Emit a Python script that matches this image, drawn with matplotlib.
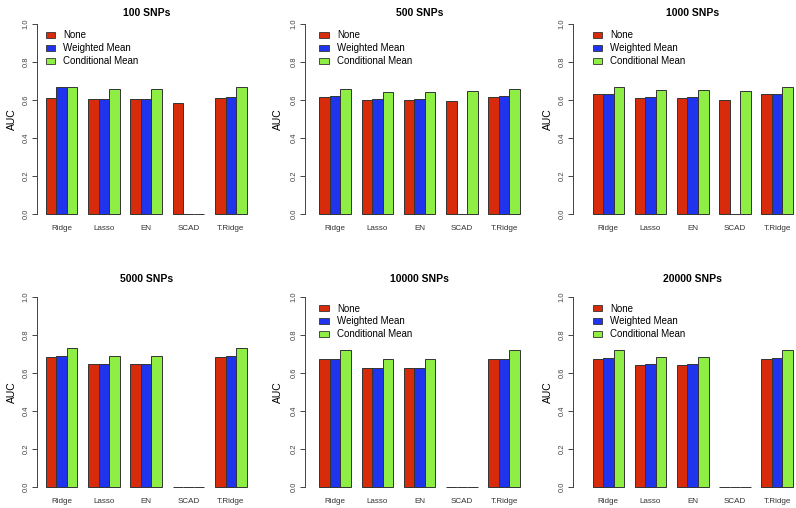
import numpy as np
import matplotlib
matplotlib.use("Agg")
import matplotlib.pyplot as plt
from matplotlib.patches import Patch

plt.rcParams['font.family'] = ['Liberation Sans', 'DejaVu Sans']

methods = ['Ridge', 'Lasso', 'EN', 'SCAD', 'T.Ridge']
series_names = ['None', 'Weighted Mean', 'Conditional Mean']
titles = ['100 SNPs', '500 SNPs', '1000 SNPs', '5000 SNPs', '10000 SNPs', '20000 SNPs']

none_100 = [0.610, 0.603, 0.603, 0.585, 0.612]
wm_100 = [0.668, 0.605, 0.605, 0.0, 0.615]
cm_100 = [0.668, 0.658, 0.658, 0.0, 0.668]

none_500 = [0.617, 0.602, 0.602, 0.596, 0.617]
wm_500 = [0.621, 0.603, 0.603, 0.0, 0.621]
cm_500 = [0.660, 0.643, 0.643, 0.645, 0.660]

none_1000 = [0.631, 0.612, 0.612, 0.601, 0.629]
wm_1000 = [0.631, 0.616, 0.616, 0.0, 0.631]
cm_1000 = [0.671, 0.653, 0.653, 0.646, 0.671]

none_5000 = [0.686, 0.646, 0.646, 0.0, 0.686]
wm_5000 = [0.690, 0.648, 0.648, 0.0, 0.690]
cm_5000 = [0.733, 0.690, 0.690, 0.0, 0.733]

none_10000 = [0.672, 0.625, 0.625, 0.0, 0.672]
wm_10000 = [0.675, 0.628, 0.628, 0.0, 0.675]
cm_10000 = [0.719, 0.672, 0.672, 0.0, 0.719]

none_20000 = [0.672, 0.640, 0.640, 0.0, 0.672]
wm_20000 = [0.681, 0.648, 0.648, 0.0, 0.681]
cm_20000 = [0.723, 0.686, 0.686, 0.0, 0.723]

panel_data = [
    (none_100, wm_100, cm_100),
    (none_500, wm_500, cm_500),
    (none_1000, wm_1000, cm_1000),
    (none_5000, wm_5000, cm_5000),
    (none_10000, wm_10000, cm_10000),
    (none_20000, wm_20000, cm_20000),
]
show_legend = [True, True, True, False, True, True]

colors = ['#D82B0C', '#2034EE', '#8EEE44']
edge = '#333333'

W, H = 796, 508
fig = plt.figure(figsize=(W / 100, H / 100), dpi=100)

# pixel layout: (spine x, first bar left, last bar right, AUC x) per column, (y of 0, y of 1) per row
cols = [(37, 45.7, 246.7, 12), (305, 319.3, 520, 278), (573, 592.5, 793, 548)]
rows = [(214, 24), (487, 297)]
title_y = [13, 279]

for i in range(6):
    r, c = divmod(i, 3)
    sx, bx0, bx1, lx = cols[c]
    y0, y1 = rows[r]
    unit = (bx1 - bx0) / 19.0
    xl = 1 - (bx0 - sx) / unit
    xr = 20.76
    right_px = bx1 + (xr - 20) * unit
    ext = 0.04 * (y0 - y1)
    top_px, bot_px = y1 - ext, y0 + ext
    ax = fig.add_axes([sx / W, 1 - bot_px / H, (right_px - sx) / W, (bot_px - top_px) / H])

    for j, vals in enumerate(panel_data[i]):
        xs = np.arange(len(methods)) * 4 + 1 + j
        ax.bar(xs, vals, width=1.0, align='edge', color=colors[j],
               edgecolor=edge, linewidth=0.7)

    ax.set_xlim(xl, xr)
    ax.set_ylim(-0.04, 1.04)
    for s in ['top', 'right', 'bottom']:
        ax.spines[s].set_visible(False)
    ax.spines['left'].set_bounds(0, 1)
    ax.spines['left'].set_color('#444444')
    ax.spines['left'].set_linewidth(0.7)
    ax.set_yticks([0, 0.2, 0.4, 0.6, 0.8, 1.0])
    ax.set_yticklabels(['0.0', '0.2', '0.4', '0.6', '0.8', '1.0'])
    ax.tick_params(axis='y', labelrotation=90, labelsize=5.5, colors='#444444',
                   length=3.3, width=0.7, pad=2)
    for lab in ax.get_yticklabels():
        lab.set_va('center')
    ax.set_xticks(np.arange(len(methods)) * 4 + 2.5)
    ax.set_xticklabels(methods)
    ax.tick_params(axis='x', length=0, labelsize=5.8, colors='#333333', pad=2.5)

    cx = (bx0 + bx1) / 2
    fig.text(cx / W, 1 - title_y[r] / H, titles[i], ha='center', va='center',
             fontsize=7.5, fontweight='bold')
    fig.text(lx / W, 1 - ((y0 + y1) / 2) / H, 'AUC', rotation=90,
             ha='center', va='center', fontsize=7.5)

    if show_legend[i]:
        handles = [Patch(facecolor=colors[k], edgecolor=edge, linewidth=0.6)
                   for k in range(3)]
        ax.legend(handles, series_names, loc='upper left',
                  bbox_to_anchor=(bx0 / W, 1 - (y1 + 6.5) / H),
                  bbox_transform=fig.transFigure, frameon=False,
                  fontsize=7, handlelength=0.95, handleheight=0.65,
                  handletextpad=0.85, labelspacing=0.3, borderpad=0,
                  borderaxespad=0)

fig.savefig('out.png', dpi=100)
